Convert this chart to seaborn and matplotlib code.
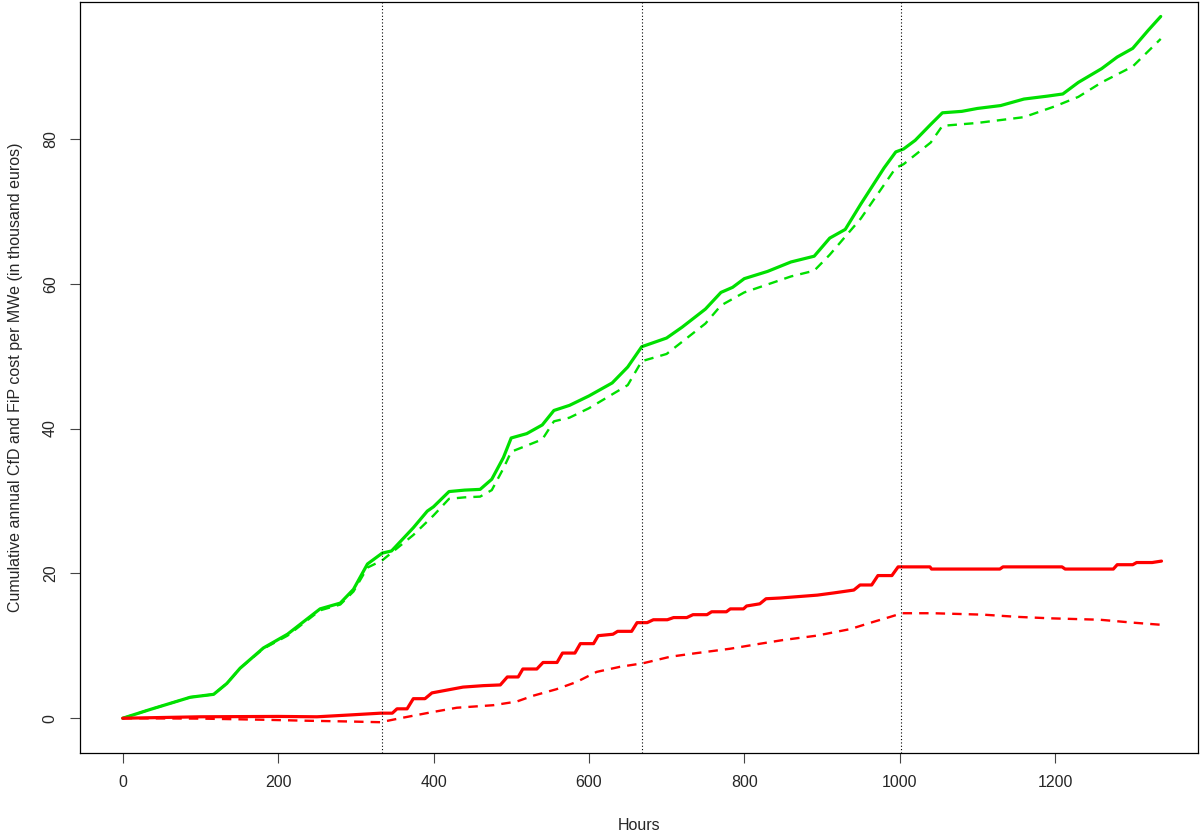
import numpy as np
import pandas as pd
import seaborn as sns
from matplotlib import pyplot as plt

# cumulative cost per MWe (thousand euros)
green_solid_h = [0, 35, 87, 117, 134, 151, 181, 212, 254, 280, 297, 315, 334, 346, 374, 392,
                 400, 420, 440, 460, 475, 490, 500, 520, 540, 555, 575, 600, 630, 650, 668,
                 700, 720, 750, 770, 785, 800, 830, 860, 890, 910, 930, 950, 980, 995, 1005,
                 1020, 1040, 1055, 1080, 1100, 1130, 1160, 1190, 1210, 1230, 1260, 1280, 1300,
                 1320, 1336]
green_solid_v = [0, 1.2, 2.9, 3.3, 4.8, 6.9, 9.7, 11.6, 15.1, 15.9, 17.8, 21.3, 22.8, 23.1, 26.3, 28.6,
                 29.2, 31.3, 31.5, 31.6, 33.0, 36.0, 38.7, 39.3, 40.5, 42.5, 43.2, 44.5, 46.3, 48.5, 51.3,
                 52.5, 54.0, 56.5, 58.8, 59.5, 60.7, 61.7, 63.0, 63.8, 66.3, 67.5, 71.0, 76.0, 78.2, 78.6,
                 79.8, 82.0, 83.6, 83.8, 84.2, 84.6, 85.5, 85.9, 86.2, 87.8, 89.7, 91.3, 92.5,
                 95.0, 96.9]

green_dash_h = [0, 35, 87, 117, 134, 151, 181, 212, 254, 280, 297, 315, 334, 374, 400, 420, 440,
                460, 475, 490, 500, 540, 555, 575, 600, 650, 668, 700, 750, 770, 800, 860, 890,
                910, 950, 995, 1005, 1040, 1055, 1100, 1160, 1200, 1230, 1260, 1300, 1336]
green_dash_v = [0, 1.2, 2.9, 3.3, 4.8, 6.9, 9.6, 11.4, 14.9, 15.7, 17.5, 20.8, 21.8, 25.3, 28.0, 30.3, 30.5,
                30.6, 31.5, 34.5, 36.8, 38.5, 41.0, 41.5, 42.8, 46.0, 49.3, 50.3, 54.5, 57.0, 58.8, 61.0, 61.8,
                64.0, 69.0, 76.0, 76.5, 79.5, 81.8, 82.2, 83.0, 84.5, 85.8, 87.8, 90.0, 93.8]

red_solid_h = [0, 100, 200, 250, 292, 332, 347, 353, 366, 374, 389, 398, 438, 464, 486, 495, 509,
               515, 533, 541, 559, 566, 582, 589, 606, 612, 631, 637, 655, 662, 675, 683, 701,
               709, 726, 734, 752, 758, 777, 782, 799, 803, 820, 828, 846, 894, 915, 941, 949,
               964, 972, 990, 998, 1039, 1041, 1129, 1133, 1209, 1213, 1275, 1280, 1300, 1305,
               1325, 1337]
red_solid_v = [0, 0.2, 0.25, 0.2, 0.45, 0.7, 0.7, 1.3, 1.3, 2.7, 2.7, 3.5, 4.3, 4.5, 4.6, 5.7, 5.7,
               6.8, 6.8, 7.7, 7.7, 9.0, 9.0, 10.3, 10.3, 11.4, 11.6, 12.0, 12.0, 13.2, 13.2, 13.6, 13.6,
               13.9, 13.9, 14.3, 14.3, 14.7, 14.7, 15.1, 15.1, 15.5, 15.8, 16.5, 16.6, 17.0, 17.3, 17.7, 18.4,
               18.4, 19.7, 19.7, 20.9, 20.9, 20.6, 20.6, 20.9, 20.9, 20.6, 20.6, 21.2, 21.2, 21.5,
               21.5, 21.7]

red_dash_h = [0, 100, 177, 240, 292, 332, 357, 396, 430, 477, 507, 528, 558, 584, 610, 640, 670,
              705, 739, 782, 821, 850, 893, 936, 966, 988, 1003, 1043, 1108, 1151, 1193, 1258,
              1300, 1337]
red_dash_v = [0, -0.05, -0.2, -0.35, -0.45, -0.55, 0.0, 0.8, 1.45, 1.8, 2.3, 3.1, 4.0, 5.0, 6.4, 7.1, 7.6,
              8.5, 9.0, 9.6, 10.3, 10.8, 11.4, 12.3, 13.3, 14.0, 14.5, 14.5, 14.3, 14.0, 13.8, 13.6,
              13.2, 12.9]

quarter_ends = [334, 668, 1002]
x_ticks = [0, 200, 400, 600, 800, 1000, 1200]
y_ticks = [0, 20, 40, 60, 80]

sns.set_style("white")
plt.rcParams["font.family"] = ["Liberation Sans", "DejaVu Sans"]

fig = plt.figure(figsize=(12.03, 8.33), dpi=100)
ax = fig.add_axes([80 / 1203, 1 - 753 / 833, 1118 / 1203, 751 / 833])

sns.lineplot(x=green_solid_h, y=green_solid_v, color="#00e000", lw=2.3, ax=ax)
sns.lineplot(x=green_dash_h, y=green_dash_v, color="#00e000", lw=1.7, dashes=False, ax=ax)
ax.lines[-1].set_dashes((4, 3))
sns.lineplot(x=red_solid_h, y=red_solid_v, color="#ff0000", lw=2.3, ax=ax)
sns.lineplot(x=red_dash_h, y=red_dash_v, color="#ff0000", lw=1.7, ax=ax)
ax.lines[-1].set_dashes((4, 3))

for q in quarter_ends:
    ax.axvline(q, color="black", lw=0.8, ls=(0, (1, 2)))

ax.set_xlim(-55, 1384)
ax.set_ylim(-4.8, 98.9)
ax.set_xticks(x_ticks)
ax.set_yticks(y_ticks)
ax.tick_params(direction="out", length=7, width=0.8, color="#444444", labelsize=11.5,
               pad=9, bottom=True, left=True)
for lab in ax.get_yticklabels():
    lab.set_rotation(90)
    lab.set_va("center")
for s in ax.spines.values():
    s.set_color("black")
    s.set_linewidth(0.9)

ax.set_xlabel("Hours", fontsize=11.5, labelpad=20)
ax.set_ylabel("Cumulative annual CfD and FiP cost per MWe (in thousand euros)", fontsize=11.5, labelpad=14)

fig.savefig("out.png", dpi=100)
